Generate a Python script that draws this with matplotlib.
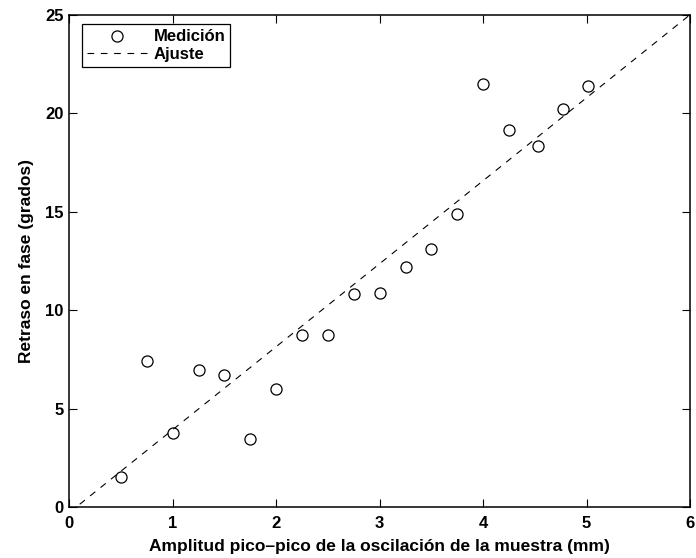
import matplotlib
matplotlib.use("Agg")
import matplotlib.pyplot as plt
import numpy as np

# medidas: amplitud pico-pico (mm) vs retraso en fase (grados)
amplitud = [0.5, 0.75, 1.0, 1.25, 1.5, 1.75, 2.0, 2.25, 2.5, 2.75, 3.0,
            3.25, 3.5, 3.75, 4.0, 4.25, 4.53, 4.77, 5.01]
retraso = [1.56, 7.43, 3.78, 6.99, 6.73, 3.45, 6.02, 8.74, 8.74, 10.82, 10.88,
           12.19, 13.1, 14.88, 21.5, 19.15, 18.32, 20.2, 21.36]

# ajuste lineal
pendiente = 4.21
ordenada = -0.27
x_ajuste = [0.0, 6.0]

plt.rcParams['font.family'] = ['Liberation Sans', 'DejaVu Sans']
plt.rcParams['font.weight'] = 'bold'

fig = plt.figure(figsize=(6.96, 5.58), dpi=100)
ax = fig.add_axes([0.0996, 0.0909, 0.8918, 0.883])

ax.plot(amplitud, retraso, 'o', mfc='none', mec='black', ms=8, mew=0.9,
        linestyle='none', label='Medición')
ax.plot(x_ajuste, [pendiente * x + ordenada for x in x_ajuste], color='black',
        lw=0.8, dashes=(6, 6), label='Ajuste')

ax.set_xlim(0, 6)
ax.set_ylim(0, 25)
ax.set_xticks(np.arange(0, 7, 1))
ax.set_yticks(np.arange(0, 30, 5))

ax.tick_params(direction='in', length=6, width=0.8, top=True, right=True,
               labelsize=12)
ax.tick_params(axis='x', pad=6)
ax.tick_params(axis='y', pad=4)
for lab in ax.get_xticklabels() + ax.get_yticklabels():
    lab.set_fontweight('bold')
for s in ax.spines.values():
    s.set_linewidth(1.1)

ax.set_xlabel('Amplitud pico\u2013pico de la oscilación de la muestra (mm)',
              fontsize=12.5, fontweight='bold', labelpad=6)
ax.set_ylabel('Retraso en fase (grados)', fontsize=12.5, fontweight='bold',
              labelpad=8)

leg = ax.legend(loc='upper left', bbox_to_anchor=(0.02, 0.98), fancybox=False,
                edgecolor='black', framealpha=1, fontsize=12, handlelength=3.6,
                borderaxespad=0, handletextpad=0.4, borderpad=0.3,
                labelspacing=0.15, markerfirst=True)
leg.get_frame().set_linewidth(0.9)
for t in leg.get_texts():
    t.set_fontweight('bold')

fig.savefig('out.png', dpi=100)
